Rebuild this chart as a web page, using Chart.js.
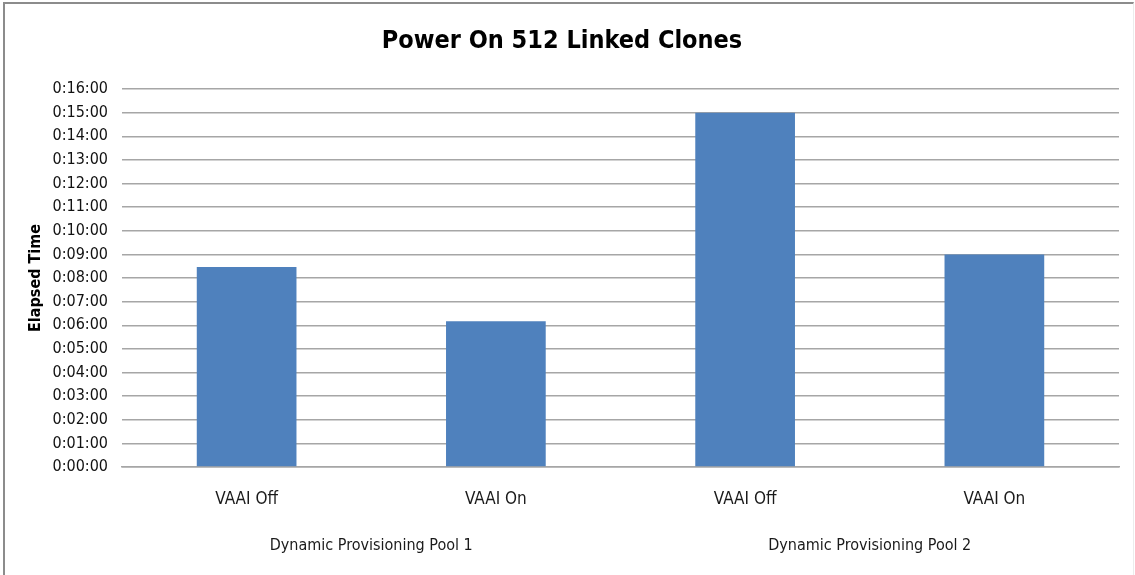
<!DOCTYPE html>
<html>
<head>
<meta charset="utf-8">
<title>Power On 512 Linked Clones</title>
<script src="https://cdn.jsdelivr.net/npm/chart.js@4/dist/chart.umd.min.js"></script>
<style>
  html, body { margin: 0; padding: 0; background: #ffffff; }
  #frame {
    position: absolute; left: 3px; top: 2px; width: 1128px; height: 600px;
    border-top: 2px solid #8c8c8c; border-left: 2px solid #8c8c8c; border-right: 1px solid #ececec;
  }
  #wrap { position: absolute; left: 0; top: 0; width: 1135px; height: 575px; }
</style>
</head>
<body>
<div id="frame"></div>
<div id="wrap"><canvas id="chart" width="1135" height="575"></canvas></div>
<script>
// Bar categories (lower label row) and pool groups (upper label row)
const categories = ['VAAI Off', 'VAAI On', 'VAAI Off', 'VAAI On'];
const pools = ['Dynamic Provisioning Pool 1', 'Dynamic Provisioning Pool 2'];
// Elapsed time to power on 512 linked clones (h:mm:ss)
const elapsedTimes = ['0:08:28', '0:06:10', '0:15:00', '0:09:00'];
// Value axis range and step, in seconds
const axisMaxSeconds = 960;
const axisStepSeconds = 60;

const FONT = "'DejaVu Sans Condensed', 'Liberation Sans Narrow', 'Arial Narrow', sans-serif";

function toSeconds(t) {
  const [h, m, s] = t.split(':').map(Number);
  return h * 3600 + m * 60 + s;
}
function toClock(sec) {
  const h = Math.floor(sec / 3600);
  const m = Math.floor((sec % 3600) / 60);
  const s = Math.round(sec % 60);
  return h + ':' + String(m).padStart(2, '0') + ':' + String(s).padStart(2, '0');
}

const values = elapsedTimes.map(toSeconds);

new Chart(document.getElementById('chart'), {
  type: 'bar',
  data: {
    labels: categories,
    datasets: [{
      label: 'Elapsed Time',
      data: values,
      backgroundColor: '#4f81bd',
      borderWidth: 0,
      barPercentage: 0.4,
      categoryPercentage: 1.0
    }]
  },
  options: {
    responsive: false,
    animation: false,
    devicePixelRatio: 1,
    layout: { padding: { left: 5, top: 4, right: 16, bottom: 0 } },
    plugins: {
      legend: { display: false },
      tooltip: { enabled: false },
      title: {
        display: true,
        text: 'Power On 512 Linked Clones',
        color: '#000000',
        font: { family: FONT, size: 25, weight: 'bold' },
        padding: { top: 22, bottom: 33 }
      }
    },
    scales: {
      y: {
        min: 0,
        max: axisMaxSeconds,
        afterFit: (s) => { s.width = 117; },
        ticks: {
          stepSize: axisStepSeconds,
          autoSkip: false,
          padding: 14,
          color: '#111111',
          font: { family: FONT, size: 16 },
          callback: (v) => toClock(v)
        },
        grid: { color: '#a6a6a6', lineWidth: 1.5, drawTicks: false },
        border: { display: false },
        title: {
          display: true,
          text: 'Elapsed Time',
          color: '#000000',
          font: { family: FONT, size: 16, weight: 'bold' },
          padding: { top: 21, bottom: 0 }
        }
      },
      x: {
        position: 'bottom',
        afterFit: (s) => { s.height = 50; },
        ticks: {
          padding: 22,
          color: '#1a1a1a',
          font: { family: FONT, size: 17 },
          maxRotation: 0,
          autoSkip: false
        },
        grid: { display: false, drawTicks: false },
        border: { display: true, color: '#a6a6a6', width: 1.5 }
      },
      x2: {
        type: 'category',
        position: 'bottom',
        labels: pools,
        offset: true,
        afterFit: (s) => { s.height = 58; },
        ticks: {
          padding: 19,
          color: '#1a1a1a',
          font: { family: FONT, size: 16 },
          maxRotation: 0,
          autoSkip: false
        },
        grid: { display: false, drawTicks: false },
        border: { display: false }
      }
    }
  }
});
</script>
</body>
</html>
